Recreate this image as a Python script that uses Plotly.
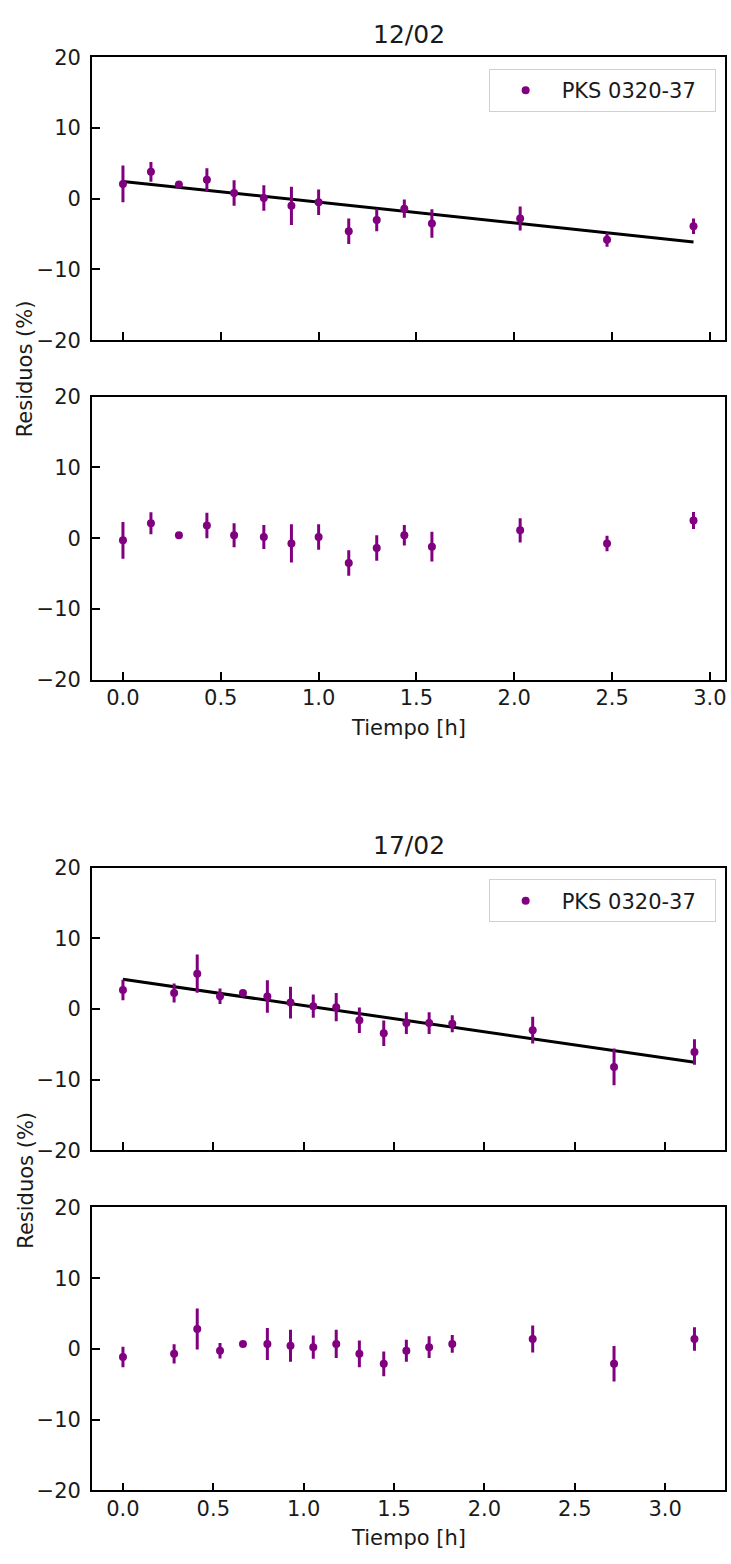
import plotly.graph_objects as go

# ---------------- data ----------------
# Night 12/02
t1 = [0.0, 0.143, 0.286, 0.429, 0.568, 0.72, 0.861, 1.0, 1.154, 1.297, 1.438, 1.579, 2.03, 2.474, 2.916]
flux1 = [2.1, 3.8, 2.0, 2.7, 0.8, 0.1, -1.0, -0.5, -4.6, -3.0, -1.4, -3.5, -2.8, -5.8, -3.9]
err1 = [2.6, 1.4, 0.3, 1.6, 1.8, 1.8, 2.7, 1.8, 1.8, 1.6, 1.3, 2.0, 1.7, 1.0, 1.1]
res1 = [-0.3, 2.1, 0.4, 1.8, 0.4, 0.15, -0.75, 0.15, -3.5, -1.4, 0.4, -1.2, 1.1, -0.75, 2.5]
rerr1 = [2.6, 1.55, 0.3, 1.8, 1.7, 1.7, 2.7, 1.8, 1.8, 1.8, 1.45, 2.1, 1.7, 1.1, 1.2]
fit1_t = [0.0, 2.916]
fit1_y = [2.45, -6.1]

# Night 17/02
t2 = [0.0, 0.283, 0.411, 0.537, 0.664, 0.799, 0.927, 1.053, 1.18, 1.308, 1.443, 1.568, 1.694, 1.822, 2.267, 2.717, 3.162]
flux2 = [2.7, 2.25, 5.0, 1.8, 2.25, 1.75, 0.9, 0.4, 0.25, -1.6, -3.45, -2.0, -2.0, -2.1, -3.0, -8.2, -6.1]
err2 = [1.45, 1.35, 2.7, 1.1, 0.4, 2.3, 2.25, 1.65, 2.0, 1.8, 1.8, 1.55, 1.55, 1.2, 1.9, 2.6, 1.8]
res2 = [-1.15, -0.7, 2.8, -0.25, 0.7, 0.7, 0.45, 0.25, 0.7, -0.7, -2.1, -0.25, 0.25, 0.7, 1.4, -2.1, 1.4]
rerr2 = [1.45, 1.35, 2.9, 1.1, 0.4, 2.25, 2.25, 1.65, 2.0, 1.9, 1.75, 1.55, 1.55, 1.25, 1.9, 2.5, 1.65]
fit2_t = [0.0, 3.162]
fit2_y = [4.2, -7.55]

titles = ["12/02", "17/02"]
source_name = "PKS 0320-37"
y_ticks = [-20, -10, 0, 10, 20]
x_ticks1 = [0.0, 0.5, 1.0, 1.5, 2.0, 2.5, 3.0]
x_ticks2 = [0.0, 0.5, 1.0, 1.5, 2.0, 2.5, 3.0]

# ---------------- figure ----------------
W, H = 731, 1564
PURPLE = "#800080"
FONT = "DejaVu Sans"
TXT = "#1a1a1a"

def py(px):
    return 1 - px / H

fig = go.Figure()

def data_trace(x, y, e, axis_id, legend=None, show=False):
    return go.Scatter(
        x=x, y=y, mode="markers",
        marker=dict(color=PURPLE, size=8),
        error_y=dict(type="data", array=e, width=0, thickness=3, color=PURPLE),
        xaxis="x" + axis_id, yaxis="y" + axis_id,
        name=source_name + "\u00a0\u00a0", showlegend=show,
        legend=legend if legend else "legend",
    )

def fit_trace(x, y, axis_id):
    return go.Scatter(x=x, y=y, mode="lines", line=dict(color="black", width=3),
                      xaxis="x" + axis_id, yaxis="y" + axis_id, showlegend=False,
                      hoverinfo="skip")

fig.add_trace(fit_trace(fit1_t, fit1_y, ""))
fig.add_trace(data_trace(t1, flux1, err1, "", "legend", True))
fig.add_trace(data_trace(t1, res1, rerr1, "2"))
fig.add_trace(fit_trace(fit2_t, fit2_y, "3"))
fig.add_trace(data_trace(t2, flux2, err2, "3", "legend2", True))
fig.add_trace(data_trace(t2, res2, rerr2, "4"))

xdom = [92.3 / W, 727 / W]
ydoms = [
    [py(333.3), py(46)],
    [py(678), py(390.7)],
    [py(1156), py(869)],
    [py(1501.5), py(1214)],
]
xranges = [[-0.158, 3.077], [-0.158, 3.077], [-0.171, 3.331], [-0.171, 3.331]]
xtickvals = [x_ticks1, x_ticks1, x_ticks2, x_ticks2]

axis_common = dict(
    showgrid=False, zeroline=False, showline=True, linecolor="black", linewidth=1.8,
    mirror=True, ticks="inside", ticklen=8, tickwidth=1.8, tickcolor="black",
    tickfont=dict(family=FONT, size=21, color=TXT),
)

layout = {}
names = ["", "2", "3", "4"]
for i, n in enumerate(names):
    xa = dict(axis_common, domain=xdom, range=xranges[i], tickvals=xtickvals[i],
              ticktext=[f"{v:.1f}" for v in xtickvals[i]],
              showticklabels=(i in (1, 3)), anchor="y" + n, ticklabelstandoff=-2)
    ya = dict(axis_common, domain=ydoms[i], range=[-20, 20], tickvals=y_ticks,
              ticktext=[("\u2212" + str(-v)) if v < 0 else str(v) for v in y_ticks],
              anchor="x" + n, ticklabelstandoff=5)
    layout["xaxis" + n] = xa
    layout["yaxis" + n] = ya

legend_common = dict(
    bgcolor="white", bordercolor="#d0d0d0", borderwidth=1,
    font=dict(family=FONT, size=21, color=TXT),
    xanchor="left", yanchor="top", itemwidth=62,
)
layout["legend"] = dict(legend_common, x=490 / W, y=py(58))
layout["legend2"] = dict(legend_common, x=490 / W, y=py(881))

annotations = []
for title, ypx in zip(titles, [23, 846]):
    annotations.append(dict(text=title, x=410 / W, y=py(ypx), xref="paper", yref="paper",
                            showarrow=False, xanchor="center", yanchor="middle",
                            font=dict(family=FONT, size=25, color=TXT)))
for ypx in [727, 1550]:
    annotations.append(dict(text="Tiempo [h]", x=410 / W, y=py(ypx), xref="paper", yref="paper",
                            showarrow=False, xanchor="center", yanchor="middle",
                            font=dict(family=FONT, size=21, color=TXT)))
for ypx in [362, 1186]:
    annotations.append(dict(text="Residuos (%)", x=26 / W, y=py(ypx), xref="paper", yref="paper",
                            showarrow=False, xanchor="center", yanchor="middle", textangle=-90,
                            font=dict(family=FONT, size=21, color=TXT)))

fig.update_layout(
    width=W, height=H, margin=dict(l=0, r=0, t=0, b=0, pad=0),
    paper_bgcolor="white", plot_bgcolor="white",
    annotations=annotations, showlegend=True,
    **layout,
)

fig.write_html("out.html")
